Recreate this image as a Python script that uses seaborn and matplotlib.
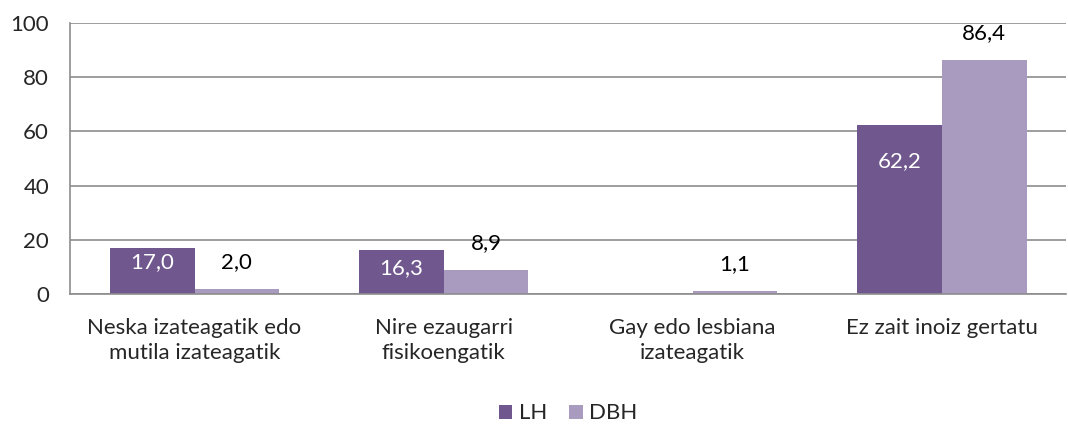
import numpy as np
import pandas as pd
import matplotlib
matplotlib.use("Agg")
import matplotlib.pyplot as plt
import seaborn as sns

categories = ["Neska izateagatik edo\nmutila izateagatik",
              "Nire ezaugarri\nfisikoengatik",
              "Gay edo lesbiana\nizateagatik",
              "Ez zait inoiz gertatu"]
lh_values = [17.0, 16.3, np.nan, 62.2]
dbh_values = [2.0, 8.9, 1.1, 86.4]
series_names = ["LH", "DBH"]
colors = ["#70588e", "#a99abf"]

df = pd.DataFrame({
    "cat": categories * 2,
    "value": lh_values + dbh_values,
    "serie": [series_names[0]] * 4 + [series_names[1]] * 4,
})

sns.set_style("white")
plt.rcParams["font.family"] = ["Lato", "DejaVu Sans"]
fs = 16

fig = plt.figure(figsize=(10.68, 4.25), dpi=100)
ax = fig.add_axes([0.0655, 0.308, 0.933, 0.638])

sns.barplot(data=df, x="cat", y="value", hue="serie", palette=colors,
            width=0.68, gap=0, saturation=1, ax=ax, errorbar=None,
            linewidth=0)

ax.set_ylim(0, 100)
ax.set_yticks(range(0, 101, 20))
ax.set_xlim(-0.5, 3.5)
ax.yaxis.grid(True, color="#8c8c8c", linewidth=1.2)
ax.set_axisbelow(True)
for s in ["top", "right"]:
    ax.spines[s].set_visible(False)
for s in ["left", "bottom"]:
    ax.spines[s].set_color("#8c8c8c")
    ax.spines[s].set_linewidth(1.2)
ax.tick_params(axis="both", length=0, labelsize=fs)
ax.tick_params(axis="y", pad=15)
ax.tick_params(axis="x", pad=17)
for lbl in ax.get_xticklabels():
    lbl.set_linespacing(1.35)
ax.set_xlabel("")
ax.set_ylabel("")

# data labels: inside (white) for LH, above (black) for DBH
# (nan bars are dropped by seaborn, so read heights off the bars)
lh_offsets = [-14, -18, -36]
for bar, off in zip(ax.containers[0], lh_offsets):
    h = bar.get_height()
    if np.isnan(h):
        continue
    ax.annotate(f"{h:.1f}".replace(".", ","),
                (bar.get_x() + bar.get_width() / 2, h),
                xytext=(0, off), textcoords="offset pixels",
                ha="center", va="center", color="white", fontsize=fs)
for bar in ax.containers[1]:
    h = bar.get_height()
    ax.annotate(f"{h:.1f}".replace(".", ","),
                (bar.get_x() + bar.get_width() / 2, h),
                xytext=(0, 27), textcoords="offset pixels",
                ha="center", va="center", color="black", fontsize=fs)

leg = ax.legend(loc="center", bbox_to_anchor=(0.5, -0.44), ncol=2,
                frameon=False, fontsize=fs, handlelength=0.6,
                handleheight=0.6, handletextpad=0.3, columnspacing=1.0)

fig.savefig("out.png", dpi=100)
